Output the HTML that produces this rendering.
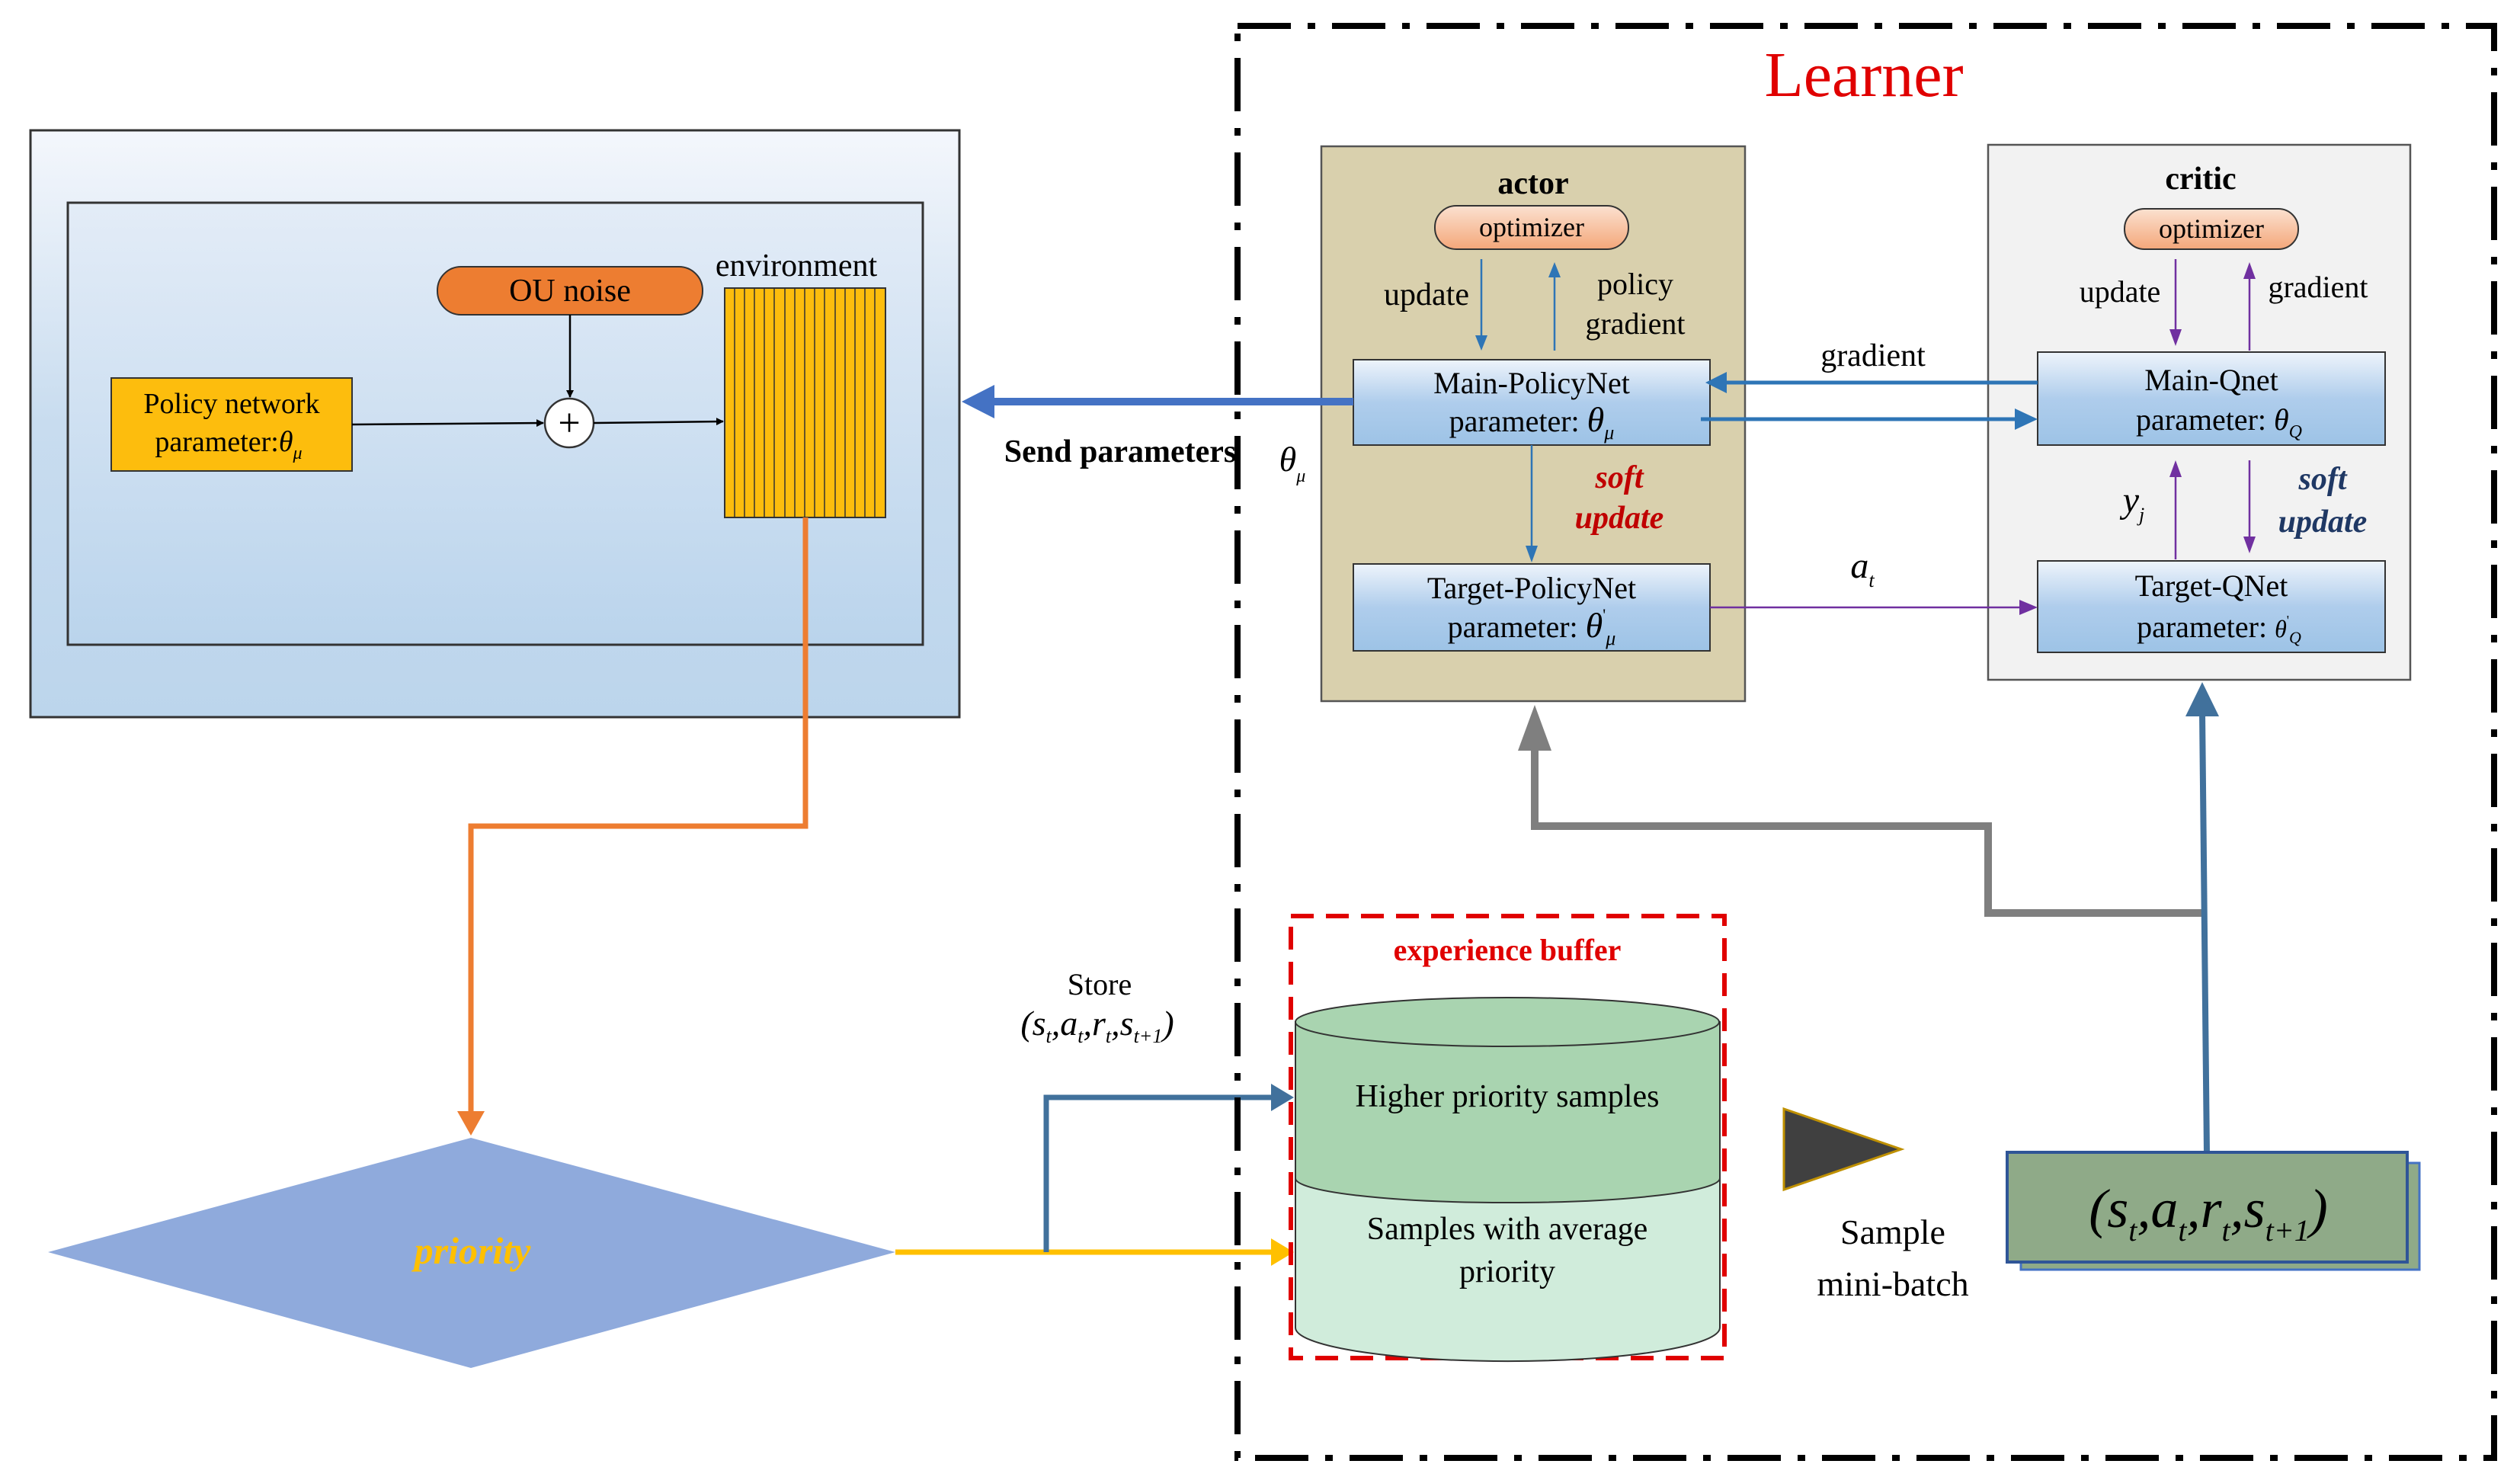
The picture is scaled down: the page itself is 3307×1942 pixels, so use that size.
<!DOCTYPE html>
<html><head><meta charset="utf-8"><style>
html,body{margin:0;padding:0;background:#fff}
svg{display:block}
text{font-family:"Liberation Serif",serif}
</style></head><body>
<svg width="3307" height="1942" viewBox="0 0 3307 1942" xmlns="http://www.w3.org/2000/svg">
<defs>
<linearGradient id="bg1" x1="0" y1="0" x2="0" y2="1"><stop offset="0" stop-color="#f4f7fc"/><stop offset="0.5" stop-color="#c8dcef"/><stop offset="1" stop-color="#bcd5ec"/></linearGradient>
<linearGradient id="bg2" x1="0" y1="0" x2="0" y2="1"><stop offset="0" stop-color="#e3ecf7"/><stop offset="1" stop-color="#bad4ec"/></linearGradient>
<linearGradient id="nb" x1="0" y1="0" x2="0" y2="1"><stop offset="0" stop-color="#eef4fb"/><stop offset="0.5" stop-color="#afcdec"/><stop offset="1" stop-color="#9dc3e6"/></linearGradient>
<linearGradient id="op" x1="0" y1="0" x2="0" y2="1"><stop offset="0" stop-color="#fbe1d0"/><stop offset="1" stop-color="#f4a77a"/></linearGradient>
<marker id="ab" markerWidth="10" markerHeight="10" refX="9" refY="5" orient="auto" markerUnits="userSpaceOnUse" viewBox="0 0 10 10"><path d="M0,0L10,5L0,10z" fill="#000"/></marker>
</defs>

<!-- left environment panel -->
<rect x="40" y="171" width="1219" height="770" fill="url(#bg1)" stroke="#333" stroke-width="3"/>
<rect x="89" y="266" width="1122" height="580" fill="url(#bg2)" stroke="#333" stroke-width="3"/>
<rect x="146" y="496" width="316" height="122" fill="#fdbd0d" stroke="#333" stroke-width="2"/>
<text x="304" y="542" font-size="38" text-anchor="middle">Policy network</text>
<text x="300" y="592" font-size="38" text-anchor="middle">parameter:<tspan font-style="italic">θ</tspan><tspan font-style="italic" font-size="24" dy="10">μ</tspan></text>
<rect x="574" y="350" width="348" height="63" rx="31" fill="#ed7d31" stroke="#333" stroke-width="2"/>
<text x="748" y="395" font-size="42" text-anchor="middle">OU noise</text>
<line x1="748" y1="413" x2="748" y2="521" stroke="#000" stroke-width="2.5" marker-end="url(#ab)"/>
<circle cx="747" cy="555" r="32" fill="#fff" stroke="#333" stroke-width="2.5"/>
<text x="747" y="572" font-size="52" text-anchor="middle">+</text>
<line x1="462" y1="557" x2="713" y2="555" stroke="#000" stroke-width="2.5" marker-end="url(#ab)"/>
<line x1="779" y1="555" x2="949" y2="553" stroke="#000" stroke-width="2.5" marker-end="url(#ab)"/>
<text x="1045" y="362" font-size="42" text-anchor="middle">environment</text>
<rect x="951" y="378" width="211" height="301" fill="#fdbd0d" stroke="#333" stroke-width="2"/>
<g stroke="#333" stroke-width="1.5">
<line x1="964" y1="378" x2="964" y2="679"/><line x1="977" y1="378" x2="977" y2="679"/><line x1="990" y1="378" x2="990" y2="679"/><line x1="1003" y1="378" x2="1003" y2="679"/><line x1="1016" y1="378" x2="1016" y2="679"/><line x1="1030" y1="378" x2="1030" y2="679"/><line x1="1043" y1="378" x2="1043" y2="679"/><line x1="1056" y1="378" x2="1056" y2="679"/><line x1="1069" y1="378" x2="1069" y2="679"/><line x1="1082" y1="378" x2="1082" y2="679"/><line x1="1096" y1="378" x2="1096" y2="679"/><line x1="1109" y1="378" x2="1109" y2="679"/><line x1="1122" y1="378" x2="1122" y2="679"/><line x1="1135" y1="378" x2="1135" y2="679"/><line x1="1148" y1="378" x2="1148" y2="679"/>
</g>

<!-- orange path to priority -->
<polyline points="1057,679 1057,1084 618,1084 618,1462" fill="none" stroke="#ed7d31" stroke-width="7"/>
<path d="M600,1458 L636,1458 L618,1490z" fill="#ed7d31"/>
<!-- diamond -->
<path d="M63,1643 L618,1493 L1175,1643 L618,1795z" fill="#8faadc"/>
<text x="620" y="1658" font-size="50" font-weight="bold" font-style="italic" fill="#ffc000" text-anchor="middle" font-family="Liberation Sans">priority</text>
<!-- yellow & blue store arrows -->
<line x1="1175" y1="1643" x2="1670" y2="1643" stroke="#ffc000" stroke-width="7"/>
<path d="M1668,1625 L1698,1643 L1668,1661z" fill="#ffc000"/>
<polyline points="1373,1643 1373,1440 1670,1440" fill="none" stroke="#4472c4" stroke-width="7" style="stroke:#41719c"/>
<path d="M1668,1422 L1698,1440 L1668,1458z" fill="#41719c"/>
<text x="1443" y="1305" font-size="40" text-anchor="middle">Store</text>
<text x="1440" y="1358" font-size="46" font-style="italic" text-anchor="middle">(s<tspan font-size="26" dy="10">t</tspan><tspan dy="-10">,a</tspan><tspan font-size="26" dy="10">t</tspan><tspan dy="-10">,r</tspan><tspan font-size="26" dy="10">t</tspan><tspan dy="-10">,s</tspan><tspan font-size="26" dy="10">t+1</tspan><tspan dy="-10">)</tspan></text>

<!-- Learner border -->
<rect x="1624" y="34" width="1649" height="1879" fill="none" stroke="#000" stroke-width="8" stroke-dasharray="70,22,10,22"/>
<text x="2446" y="126" font-size="84" fill="#e00000" text-anchor="middle">Learner</text>

<!-- actor -->
<rect x="1734" y="192" width="556" height="728" fill="#d9d0ad" stroke="#555" stroke-width="2.5"/>
<text x="2012" y="254" font-size="42" font-weight="bold" text-anchor="middle">actor</text>
<rect x="1883" y="270" width="254" height="57" rx="28" fill="url(#op)" stroke="#333" stroke-width="2"/>
<text x="2010" y="310" font-size="36" text-anchor="middle">optimizer</text>
<line x1="1944" y1="340" x2="1944" y2="448" stroke="#2e75b6" stroke-width="2.5"/>
<path d="M1936,440 L1952,440 L1944,460z" fill="#2e75b6"/>
<line x1="2040" y1="460" x2="2040" y2="358" stroke="#2e75b6" stroke-width="2.5"/>
<path d="M2032,364 L2048,364 L2040,344z" fill="#2e75b6"/>
<text x="1872" y="400" font-size="42" text-anchor="middle">update</text>
<text x="2146" y="386" font-size="40" text-anchor="middle">policy</text>
<text x="2146" y="438" font-size="40" text-anchor="middle">gradient</text>
<rect x="1776" y="472" width="468" height="112" fill="url(#nb)" stroke="#333" stroke-width="2"/>
<text x="2010" y="516" font-size="40" text-anchor="middle">Main-PolicyNet</text>
<text x="2010" y="566" font-size="40" text-anchor="middle">parameter: <tspan font-style="italic" font-size="46">θ</tspan><tspan font-style="italic" font-size="26" dy="10">μ</tspan></text>
<line x1="2010" y1="584" x2="2010" y2="722" stroke="#2e75b6" stroke-width="2.5"/>
<path d="M2002,716 L2018,716 L2010,738z" fill="#2e75b6"/>
<text x="2125" y="640" font-size="42" font-weight="bold" font-style="italic" fill="#c00000" text-anchor="middle">soft</text>
<text x="2125" y="693" font-size="42" font-weight="bold" font-style="italic" fill="#c00000" text-anchor="middle">update</text>
<rect x="1776" y="740" width="468" height="114" fill="url(#nb)" stroke="#333" stroke-width="2"/>
<text x="2010" y="785" font-size="40" text-anchor="middle">Target-PolicyNet</text>
<text x="2010" y="836" font-size="40" text-anchor="middle">parameter: <tspan font-style="italic" font-size="46">θ</tspan><tspan font-size="22" dy="-22">'</tspan><tspan font-style="italic" font-size="26" dy="32">μ</tspan></text>

<!-- critic -->
<rect x="2609" y="190" width="554" height="702" fill="#f2f2f2" stroke="#555" stroke-width="2.5"/>
<text x="2888" y="248" font-size="42" font-weight="bold" text-anchor="middle">critic</text>
<rect x="2788" y="274" width="228" height="53" rx="26" fill="url(#op)" stroke="#333" stroke-width="2"/>
<text x="2902" y="312" font-size="36" text-anchor="middle">optimizer</text>
<line x1="2855" y1="340" x2="2855" y2="440" stroke="#7030a0" stroke-width="2.5"/>
<path d="M2847,432 L2863,432 L2855,454z" fill="#7030a0"/>
<line x1="2952" y1="460" x2="2952" y2="360" stroke="#7030a0" stroke-width="2.5"/>
<path d="M2944,366 L2960,366 L2952,344z" fill="#7030a0"/>
<text x="2782" y="396" font-size="40" text-anchor="middle">update</text>
<text x="3042" y="390" font-size="40" text-anchor="middle">gradient</text>
<rect x="2674" y="462" width="456" height="122" fill="url(#nb)" stroke="#333" stroke-width="2"/>
<text x="2902" y="512" font-size="40" text-anchor="middle">Main-Qnet</text>
<text x="2912" y="564" font-size="40" text-anchor="middle">parameter: <tspan font-style="italic">θ</tspan><tspan font-style="italic" font-size="24" dy="10">Q</tspan></text>
<line x1="2855" y1="734" x2="2855" y2="620" stroke="#7030a0" stroke-width="2.5"/>
<path d="M2847,626 L2863,626 L2855,604z" fill="#7030a0"/>
<line x1="2952" y1="604" x2="2952" y2="710" stroke="#7030a0" stroke-width="2.5"/>
<path d="M2944,704 L2960,704 L2952,726z" fill="#7030a0"/>
<text x="2800" y="672" font-size="48" font-style="italic" text-anchor="middle">y<tspan font-size="26" dy="12">j</tspan></text>
<text x="3048" y="642" font-size="42" font-weight="bold" font-style="italic" fill="#1f3864" text-anchor="middle">soft</text>
<text x="3048" y="698" font-size="42" font-weight="bold" font-style="italic" fill="#1f3864" text-anchor="middle">update</text>
<rect x="2674" y="736" width="456" height="120" fill="url(#nb)" stroke="#333" stroke-width="2"/>
<text x="2902" y="782" font-size="40" text-anchor="middle">Target-QNet</text>
<text x="2912" y="836" font-size="40" text-anchor="middle">parameter: <tspan font-style="italic" font-size="32">θ</tspan><tspan font-size="18" dy="-16">'</tspan><tspan font-style="italic" font-size="22" dy="24">Q</tspan></text>

<!-- arrows between -->
<line x1="1776" y1="527" x2="1300" y2="527" stroke="#4472c4" stroke-width="10"/>
<path d="M1305,505 L1262,527 L1305,549z" fill="#4472c4"/>
<text x="1470" y="606" font-size="42" font-weight="bold" text-anchor="middle">Send parameters</text>
<text x="1696" y="618" font-size="46" font-style="italic" text-anchor="middle">θ<tspan font-size="24" dy="14">μ</tspan></text>
<line x1="2674" y1="502" x2="2262" y2="502" stroke="#2e75b6" stroke-width="5"/>
<path d="M2266,488 L2238,502 L2266,516z" fill="#2e75b6"/>
<text x="2458" y="480" font-size="42" text-anchor="middle">gradient</text>
<line x1="2232" y1="550" x2="2646" y2="550" stroke="#2e75b6" stroke-width="5"/>
<path d="M2644,536 L2674,550 L2644,564z" fill="#2e75b6"/>
<line x1="2244" y1="797" x2="2652" y2="797" stroke="#7030a0" stroke-width="2.5"/>
<path d="M2650,787 L2674,797 L2650,807z" fill="#7030a0"/>
<text x="2444" y="758" font-size="48" font-style="italic" text-anchor="middle">a<tspan font-size="26" dy="12">t</tspan></text>

<!-- gray arrow -->
<polyline points="2890,1198 2609,1198 2609,1084 2014,1084 2014,975" fill="none" stroke="#7f7f7f" stroke-width="10"/>
<path d="M1992,985 L2036,985 L2014,925z" fill="#7f7f7f"/>
<!-- blue up arrow -->
<line x1="2896" y1="1514" x2="2890" y2="935" stroke="#41719c" stroke-width="8"/>
<path d="M2868,940 L2912,940 L2890,895z" fill="#41719c"/>

<!-- experience buffer -->
<rect x="1694" y="1202" width="569" height="580" fill="none" stroke="#e00000" stroke-width="6" stroke-dasharray="30,16"/>
<text x="1978" y="1260" font-size="40" font-weight="bold" fill="#e00000" text-anchor="middle">experience buffer</text>
<path d="M1700,1546 L1700,1742 A278,44 0 0 0 2257,1742 L2257,1546z" fill="#d0ecdb" stroke="#333" stroke-width="2"/>
<path d="M1700,1341 L1700,1546 A278,32 0 0 0 2257,1546 L2257,1341z" fill="#a9d4b0" stroke="#333" stroke-width="2"/>
<ellipse cx="1978" cy="1341" rx="278" ry="32" fill="#a9d4b0" stroke="#333" stroke-width="2"/>
<text x="1978" y="1452" font-size="42" text-anchor="middle">Higher priority samples</text>
<text x="1978" y="1626" font-size="42" text-anchor="middle">Samples with average</text>
<text x="1978" y="1682" font-size="42" text-anchor="middle">priority</text>

<path d="M2341,1455 L2495,1508 L2341,1561z" fill="#404040" stroke="#bf9000" stroke-width="3"/>
<text x="2484" y="1632" font-size="46" text-anchor="middle">Sample</text>
<text x="2484" y="1700" font-size="46" text-anchor="middle">mini-batch</text>

<rect x="2652" y="1526" width="523" height="140" fill="#8faa88" stroke="#4472c4" stroke-width="3"/>
<rect x="2634" y="1512" width="525" height="144" fill="#8faa88" stroke="#2f5597" stroke-width="4"/>
<text x="2898" y="1610" font-size="72" font-style="italic" text-anchor="middle">(s<tspan font-size="40" dy="18">t</tspan><tspan dy="-18">,a</tspan><tspan font-size="40" dy="18">t</tspan><tspan dy="-18">,r</tspan><tspan font-size="40" dy="18">t</tspan><tspan dy="-18">,s</tspan><tspan font-size="40" dy="18">t+1</tspan><tspan dy="-18">)</tspan></text>
</svg>
</body></html>
